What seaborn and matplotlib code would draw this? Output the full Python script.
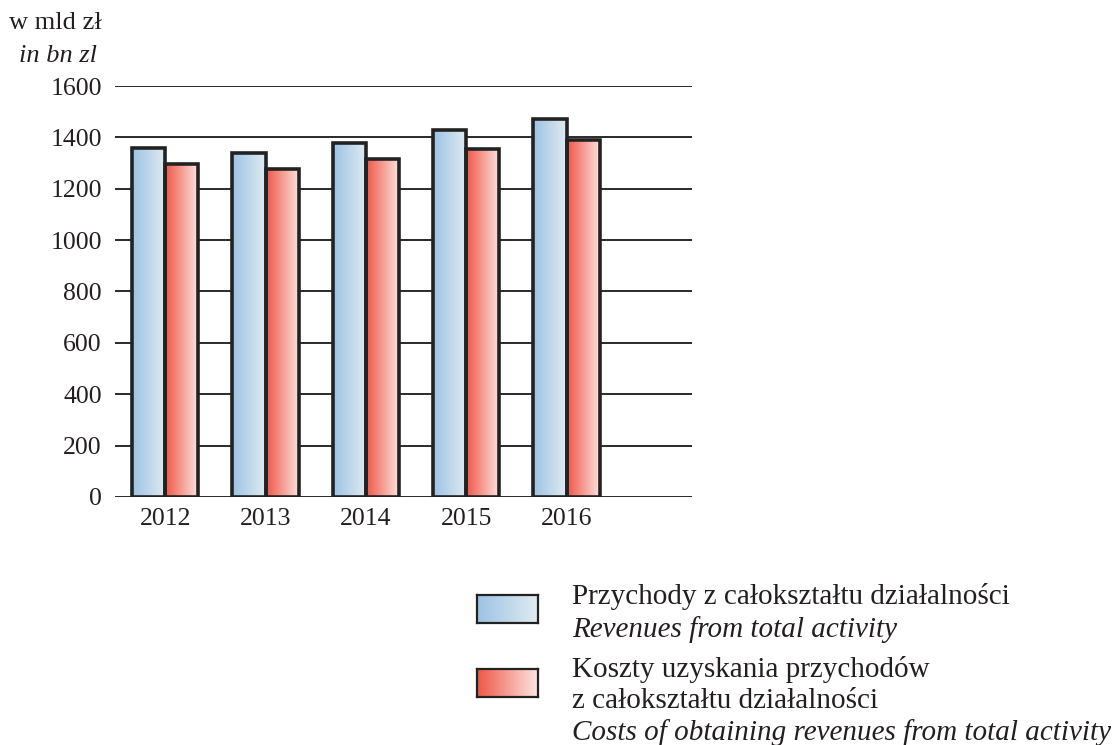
import numpy as np
import pandas as pd
import matplotlib
matplotlib.use('Agg')
import matplotlib.pyplot as plt
from matplotlib.colors import LinearSegmentedColormap
import seaborn as sns

# Data
years = ['2012', '2013', '2014', '2015', '2016']
revenues = [1360, 1338, 1378, 1428, 1472]
costs = [1297, 1277, 1315, 1354, 1390]
legend_lines = [
    ('Przychody z całokształtu działalności', 'normal'),
    ('Revenues from total activity', 'italic'),
    ('Koszty uzyskania przychodów', 'normal'),
    ('z całokształtu działalności', 'normal'),
    ('Costs of obtaining revenues from total activity', 'italic'),
]
y_ticks = [0, 200, 400, 600, 800, 1000, 1200, 1400, 1600]

df = pd.DataFrame({
    'year': years * 2,
    'value': revenues + costs,
    'series': ['rev'] * len(years) + ['cost'] * len(years),
})

sns.set_style("white")
plt.rcParams['font.family'] = ['Liberation Serif', 'DejaVu Serif']
txt_col = '#231f20'

blue_cmap = LinearSegmentedColormap.from_list('b', ['#9cc3e5', '#e0ebf0'])
red_cmap = LinearSegmentedColormap.from_list('r', ['#ef5646', '#fce6e2'])
grad = np.linspace(0, 1, 256).reshape(1, -1)

fig = plt.figure(figsize=(11.17, 7.45), dpi=100)
ax = fig.add_axes([0.103, 0.333, 0.5165, 0.5515])

sns.barplot(data=df, x='year', y='value', hue='series', dodge=True,
            width=0.66, palette=['white', 'white'], edgecolor='#222222',
            linewidth=2.6, legend=False, ax=ax, zorder=3)

# gradient fills inside each bar
for i, bar in enumerate(ax.patches):
    x0, y0 = bar.get_x(), bar.get_y()
    w, h = bar.get_width(), bar.get_height()
    if h <= 0:
        continue
    cmap = blue_cmap if i < len(years) else red_cmap
    bar.set_facecolor('none')
    img = ax.imshow(grad, cmap=cmap, aspect='auto', extent=[x0, x0 + w, y0, y0 + h],
                    zorder=2.5, interpolation='bicubic')
    img.set_clip_path(bar)
ax.set_xlim(-0.5, 5.25)
ax.set_ylim(0, 1600)

ax.set_yticks(y_ticks)
ax.grid(axis='y', color='#2a2a2a', linewidth=1.4, zorder=0)
ax.set_axisbelow(True)
for s in ax.spines.values():
    s.set_visible(False)
ax.tick_params(axis='both', length=0, labelsize=18.5, colors=txt_col)
ax.tick_params(axis='y', pad=9.5)
ax.tick_params(axis='x', pad=8)
ax.set_xlabel('')
ax.set_ylabel('')

fig.text(102 / 1117, 1 - 29 / 745, 'w mld zł', ha='right', va='baseline',
         fontsize=19, color=txt_col)
fig.text(97 / 1117, 1 - 62 / 745, 'in bn zl', ha='right', va='baseline',
         fontsize=19, style='italic', color=txt_col)

# legend swatches
for top, cmap in [(595, blue_cmap), (669, red_cmap)]:
    lax = fig.add_axes([477 / 1117, 1 - (top + 28) / 745, 61 / 1117, 28 / 745])
    lax.imshow(grad, cmap=cmap, aspect='auto', interpolation='bicubic')
    lax.set_xticks([])
    lax.set_yticks([])
    for s in lax.spines.values():
        s.set_color('#222222')
        s.set_linewidth(1.6)

baselines = [604, 637, 677, 708, 740]
for (line, st), yb in zip(legend_lines, baselines):
    fig.text(572 / 1117, 1 - yb / 745, line, ha='left', va='baseline',
             fontsize=21, style=st, color=txt_col)

fig.savefig('out.png', dpi=100)
